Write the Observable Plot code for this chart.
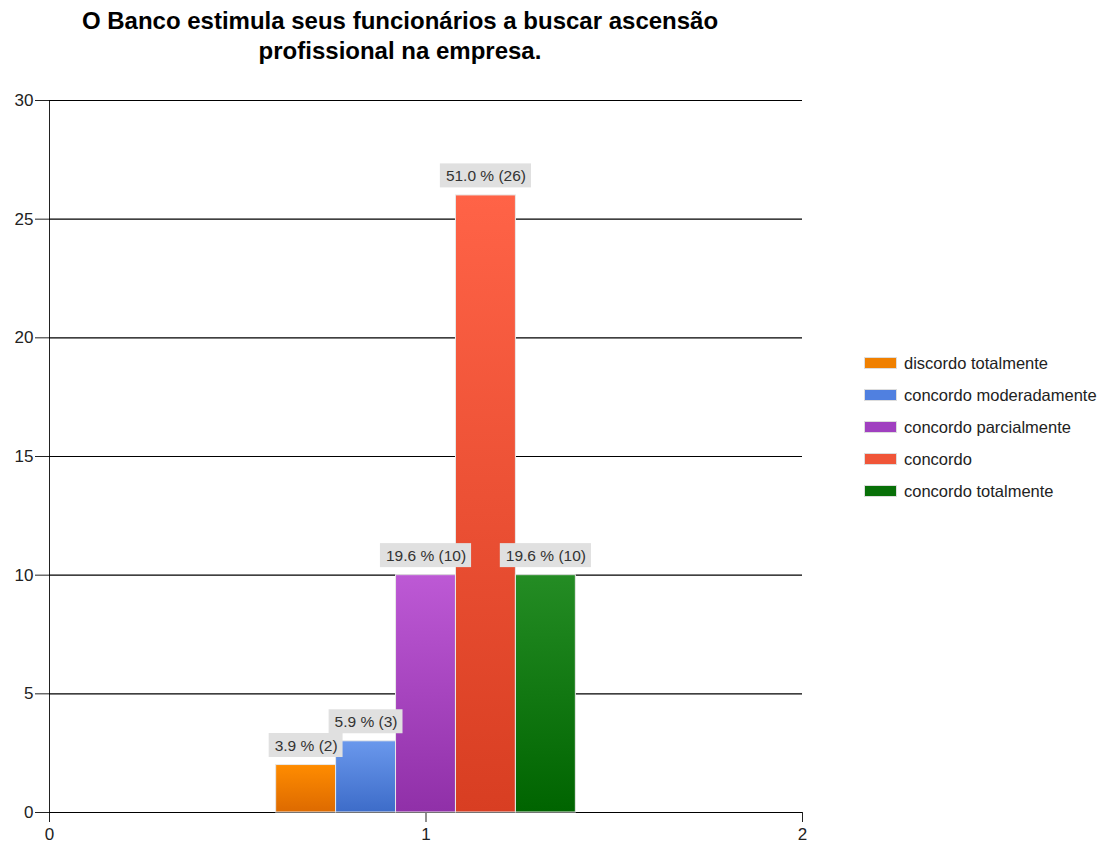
<!DOCTYPE html>
<html>
<head>
<meta charset="utf-8">
<script src="https://cdn.jsdelivr.net/npm/d3@7"></script>
<script src="https://cdn.jsdelivr.net/npm/@observablehq/plot@0.6"></script>
<style>
  body { margin: 0; background: #fff; font-family: "Liberation Sans", Arial, sans-serif; }
  #wrap { position: relative; width: 1105px; height: 843px; overflow: hidden; }
  #title { position: absolute; left: 0; top: 6px; width: 800px; text-align: center; font-weight: bold; font-size: 24px; line-height: 30px; color: #000; }
  #chart { position: absolute; left: 0; top: 90px; }
  #legend { position: absolute; left: 864px; top: 347px; font-size: 16.5px; color: #222; }
  #legend .row { display: flex; align-items: center; height: 32px; }
  #legend .sw { width: 33px; height: 12px; margin-right: 7px; border: 1px solid #ddd; box-sizing: border-box; flex: none; }
</style>
</head>
<body>
<div id="wrap">
  <div id="title">O Banco estimula seus funcionários a buscar ascensão<br>profissional na empresa.</div>
  <div id="chart"></div>
  <div id="legend"></div>
</div>
<script>
// ---- data ----
const titleText = "O Banco estimula seus funcionários a buscar ascensão profissional na empresa.";
const categories = ["discordo totalmente", "concordo moderadamente", "concordo parcialmente", "concordo", "concordo totalmente"];
const counts = [2, 3, 10, 26, 10];
const percents = [3.9, 5.9, 19.6, 51.0, 19.6];
const groupX = 1;
const xTicks = [0, 1, 2];
const yTicks = [0, 5, 10, 15, 20, 25, 30];
// colors: [top, bottom, legend swatch]
const colorTop = ["#ff8c00", "#6a98ec", "#bd59d5", "#ff6347", "#248c24"];
const colorBottom = ["#dd6a00", "#3d6cc9", "#9030a8", "#d83e22", "#006400"];
const colorSwatch = ["#f08000", "#5080e0", "#a040c0", "#f05538", "#087008"];

// ---- layout helpers ----
const band = d3.scaleBand().domain(categories).range([groupX - 0.398, groupX + 0.398]);
const data = categories.map((c, i) => ({
  cat: c,
  value: counts[i],
  x1: band(c),
  x2: band(c) + band.bandwidth(),
  xc: band(c) + band.bandwidth() / 2,
  label: `${percents[i].toFixed(1)} % (${counts[i]})`,
  fill: `url(#grad${i})`
}));

const chart = Plot.plot({
  width: 1105,
  height: 753,
  marginLeft: 49,
  marginRight: 303,
  marginTop: 10,
  marginBottom: 31,
  style: { fontFamily: "'Liberation Sans', Arial, sans-serif", fontSize: "17px", color: "#222", background: "#fff" },
  x: { domain: [0, 2], ticks: xTicks, tickFormat: d3.format("d"), tickSize: 10, tickPadding: 5, label: null },
  y: { domain: [0, 30], ticks: yTicks, tickSize: 14, tickPadding: 2, label: null, line: true },
  color: { type: "identity" },
  marks: [
    Plot.ruleY(yTicks, { stroke: "#000", strokeWidth: 1.2 }),
    Plot.rect(data, { x1: "x1", x2: "x2", y1: 0, y2: "value", fill: "fill", stroke: "#e8e8e8", strokeWidth: 1, inset: 0 }),
    Plot.text(data, { x: "xc", y: "value", text: "label", dy: -19, lineAnchor: "middle", fill: "#333", fontSize: 15.5 })
  ]
});

document.getElementById("chart").appendChild(chart);

// gradients
const svgNS = "http://www.w3.org/2000/svg";
const defs = document.createElementNS(svgNS, "defs");
categories.forEach((c, i) => {
  const g = document.createElementNS(svgNS, "linearGradient");
  g.setAttribute("id", `grad${i}`);
  g.setAttribute("x1", "0"); g.setAttribute("y1", "0"); g.setAttribute("x2", "0"); g.setAttribute("y2", "1");
  [["0%", colorTop[i]], ["100%", colorBottom[i]]].forEach(([o, col]) => {
    const s = document.createElementNS(svgNS, "stop");
    s.setAttribute("offset", o);
    s.setAttribute("stop-color", col);
    g.appendChild(s);
  });
  defs.appendChild(g);
});
chart.insertBefore(defs, chart.firstChild);

// label background boxes
const labelTexts = Array.from(chart.querySelectorAll("text")).filter(t => t.textContent.includes("%"));
labelTexts.forEach(t => {
  const bb = t.getBBox();
  const r = document.createElementNS(svgNS, "rect");
  r.setAttribute("x", bb.x - 6);
  r.setAttribute("y", bb.y - 4);
  r.setAttribute("width", bb.width + 11);
  r.setAttribute("height", bb.height + 7);
  r.setAttribute("fill", "#e0e0e0");
  r.setAttribute("stroke", "none");
  const tr = t.getAttribute("transform");
  if (tr) r.setAttribute("transform", tr);
  t.parentNode.insertBefore(r, t);
});

// legend
const legend = d3.select("#legend");
categories.forEach((c, i) => {
  const row = legend.append("div").attr("class", "row");
  row.append("div").attr("class", "sw").style("background", colorSwatch[i]);
  row.append("span").text(c);
});
</script>
</body>
</html>
